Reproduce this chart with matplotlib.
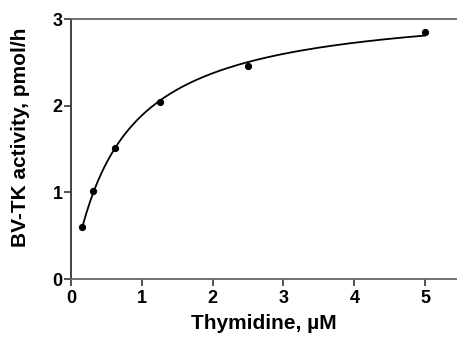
import numpy as np
import matplotlib
matplotlib.use("Agg")
import matplotlib.pyplot as plt

# datos
thymidine = [0.156, 0.3125, 0.625, 1.25, 2.5, 5.0]      # uM
activity = [0.60, 1.02, 1.51, 2.04, 2.46, 2.85]          # pmol/h

plt.rcParams['font.family'] = ['Liberation Sans', 'DejaVu Sans']
plt.rcParams['font.weight'] = 'bold'

x = np.array(thymidine)
y = np.array(activity)

# ajuste Michaelis-Menten por minimos cuadrados (busqueda en Km, Vmax lineal)
mejor = None
for km in np.linspace(0.05, 3, 3000):
    f = x / (km + x)
    vmax = np.sum(y * f) / np.sum(f * f)
    err = np.sum((y - vmax * f) ** 2)
    if mejor is None or err < mejor[0]:
        mejor = (err, km, vmax)
_, km, vmax = mejor

xs = np.linspace(x.min(), x.max(), 300)

fig = plt.figure(figsize=(4.57, 3.42), dpi=100)
ax = fig.add_axes([0.1554, 0.1842, 0.8446, 0.7602])

ax.plot(xs, vmax * xs / (km + xs), color='black', lw=1.3)
ax.plot(x, y, 'o', color='black', ms=4.2)

ax.set_xlim(0, 5.45)
ax.set_ylim(0, 3)
ax.set_xticks([0, 1, 2, 3, 4, 5])
ax.set_yticks([0, 1, 2, 3])

ax.spines['right'].set_visible(False)
for lado in ['left', 'bottom', 'top']:
    ax.spines[lado].set_linewidth(1.3)
ax.spines['left'].set_color('#333333')
ax.spines['bottom'].set_color('#666666')
ax.spines['top'].set_color('#666666')

ax.tick_params(direction='out', length=5, width=1.3, labelsize=13, color='#444444')
ax.tick_params(axis='y', pad=1)
ax.tick_params(axis='x', pad=3)
ax.set_xlabel('Thymidine, µM', fontsize=15, fontweight='bold', labelpad=5)
ax.set_ylabel('BV-TK activity, pmol/h', fontsize=15, fontweight='bold')
ax.yaxis.set_label_coords(-0.106, 0.545)

fig.savefig('out.png', dpi=100)
